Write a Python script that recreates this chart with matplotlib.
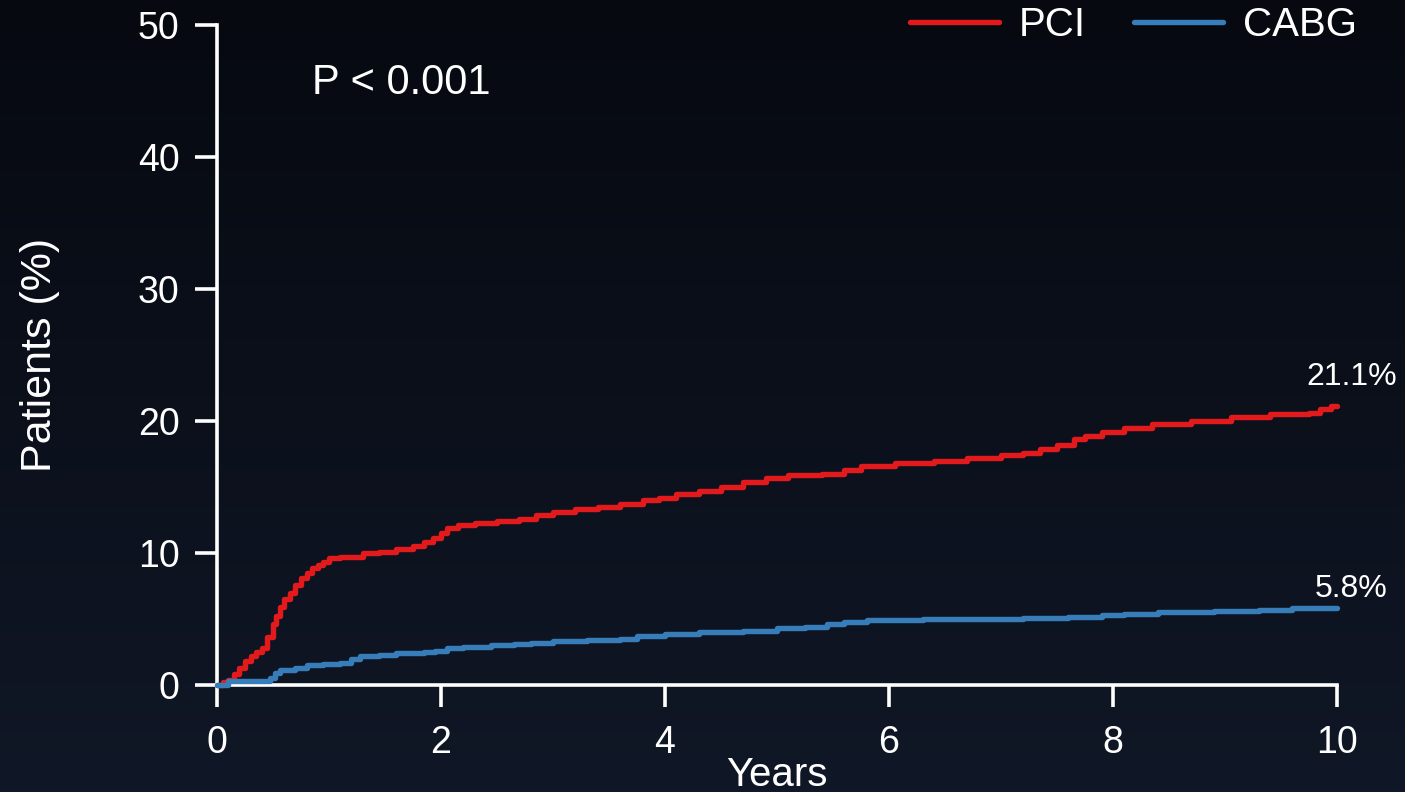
import numpy as np
import matplotlib
matplotlib.use("Agg")
import matplotlib.pyplot as plt

# Cumulative incidence, step curves (years, percent of patients)
pci_years = [0, 0.05, 0.1, 0.15, 0.2, 0.25, 0.3, 0.35, 0.4, 0.45,
             0.5, 0.53, 0.56, 0.6, 0.65, 0.7, 0.75, 0.8, 0.85, 0.9,
             0.95, 1.0, 1.1, 1.3, 1.45, 1.6, 1.75, 1.85, 1.93, 2.0,
             2.05, 2.15, 2.3, 2.5, 2.7, 2.85, 3.0, 3.2, 3.4, 3.6,
             3.8, 3.95, 4.1, 4.3, 4.5, 4.7, 4.9, 5.1, 5.4, 5.6,
             5.75, 6.05, 6.4, 6.7, 7.0, 7.2, 7.35, 7.5, 7.65, 7.75,
             7.9, 8.1, 8.35, 8.7, 9.05, 9.4, 9.75, 9.85, 9.95, 10.0]
pci_pct = [0, 0.2, 0.4, 0.8, 1.3, 1.8, 2.2, 2.5, 2.8, 3.6,
           4.6, 5.2, 5.9, 6.5, 7.0, 7.6, 8.1, 8.5, 8.9, 9.1,
           9.3, 9.6, 9.7, 10.0, 10.1, 10.3, 10.5, 10.8, 11.1, 11.5,
           11.9, 12.1, 12.3, 12.4, 12.6, 12.9, 13.1, 13.3, 13.5, 13.7,
           14.0, 14.2, 14.5, 14.7, 15.0, 15.4, 15.7, 15.9, 16.0, 16.3,
           16.6, 16.8, 17.0, 17.2, 17.4, 17.6, 17.9, 18.2, 18.6, 18.9,
           19.2, 19.5, 19.8, 20.0, 20.3, 20.5, 20.6, 20.9, 21.1, 21.1]

cabg_years = [0, 0.1, 0.47, 0.52, 0.56, 0.7, 0.8, 0.95, 1.1, 1.2,
              1.28, 1.45, 1.6, 1.85, 1.95, 2.05, 2.2, 2.45, 2.65, 2.8,
              3.0, 3.3, 3.6, 3.75, 4.0, 4.3, 4.7, 5.0, 5.25, 5.45,
              5.6, 5.8, 6.3, 6.8, 7.2, 7.6, 7.9, 8.1, 8.4, 8.9,
              9.3, 9.6, 10.0]
cabg_pct = [0, 0.3, 0.5, 0.9, 1.1, 1.3, 1.5, 1.6, 1.7, 2.0,
            2.2, 2.3, 2.4, 2.5, 2.6, 2.8, 2.9, 3.0, 3.1, 3.2,
            3.3, 3.4, 3.5, 3.7, 3.9, 4.0, 4.1, 4.3, 4.4, 4.6,
            4.8, 4.9, 5.0, 5.0, 5.1, 5.15, 5.3, 5.4, 5.5, 5.6,
            5.7, 5.8, 5.8]

series_names = ["PCI", "CABG"]
series_colors = ["#e31a1c", "#377db9"]
end_labels = ["21.1%", "5.8%"]
p_text = "P < 0.001"

plt.rcParams["font.family"] = ["Liberation Sans", "DejaVu Sans"]

fig = plt.figure(figsize=(14.05, 7.92), dpi=100)

# dark backdrop, slightly lighter toward the bottom
bg = fig.add_axes([0, 0, 1, 1], zorder=-10)
top = np.array([6, 9, 16]) / 255
bottom = np.array([16, 23, 38]) / 255
ramp = np.linspace(0, 1, 256)[:, None, None]
grad = top + (bottom - top) * ramp
bg.imshow(np.repeat(grad, 2, axis=1), aspect="auto", extent=[0, 1, 0, 1])
bg.axis("off")

ax = fig.add_axes([0.1544, 0.1351, 0.7972, 0.8333])
ax.patch.set_alpha(0)

for yrs, vals, name, col in zip([pci_years, cabg_years], [pci_pct, cabg_pct],
                                series_names, series_colors):
    ax.plot(yrs, vals, drawstyle="steps-post", color=col, lw=3.9,
            label=name, solid_joinstyle="round", solid_capstyle="round",
            clip_on=False, zorder=3)

ax.set_xlim(0, 10)
ax.set_ylim(0, 50)
ax.set_xticks(np.arange(0, 11, 2))
ax.set_yticks(np.arange(0, 51, 10))

for s in ["top", "right"]:
    ax.spines[s].set_visible(False)
for s in ["left", "bottom"]:
    ax.spines[s].set_color("white")
    ax.spines[s].set_linewidth(2.6)
ax.tick_params(colors="white", width=2.6, length=16, labelsize=27)
ax.tick_params(axis="y", pad=11)
ax.tick_params(axis="x", pad=13)

ax.set_xlabel("Years", color="white", fontsize=29)
ax.xaxis.set_label_coords(0.5, -0.107)
ax.set_ylabel("Patients (%)", color="white", fontsize=31)
ax.yaxis.set_label_coords(-0.14, 0.5)

ax.text(0.85, 44.8, p_text, color="white", fontsize=30, ha="left", va="baseline")

ax.text(10.13, 22.7, end_labels[0], color="white", fontsize=23,
        ha="center", va="baseline", clip_on=False)
ax.text(10.13, 6.7, end_labels[1], color="white", fontsize=23,
        ha="center", va="baseline", clip_on=False)

leg = fig.legend(loc="center right", bbox_to_anchor=(0.966, 0.968), ncol=2,
                 frameon=False, fontsize=29, handlelength=2.2,
                 handletextpad=0.5, columnspacing=1.2, borderpad=0,
                 borderaxespad=0)
for t in leg.get_texts():
    t.set_color("white")

fig.savefig("out.png", dpi=100, facecolor=fig.get_facecolor())
